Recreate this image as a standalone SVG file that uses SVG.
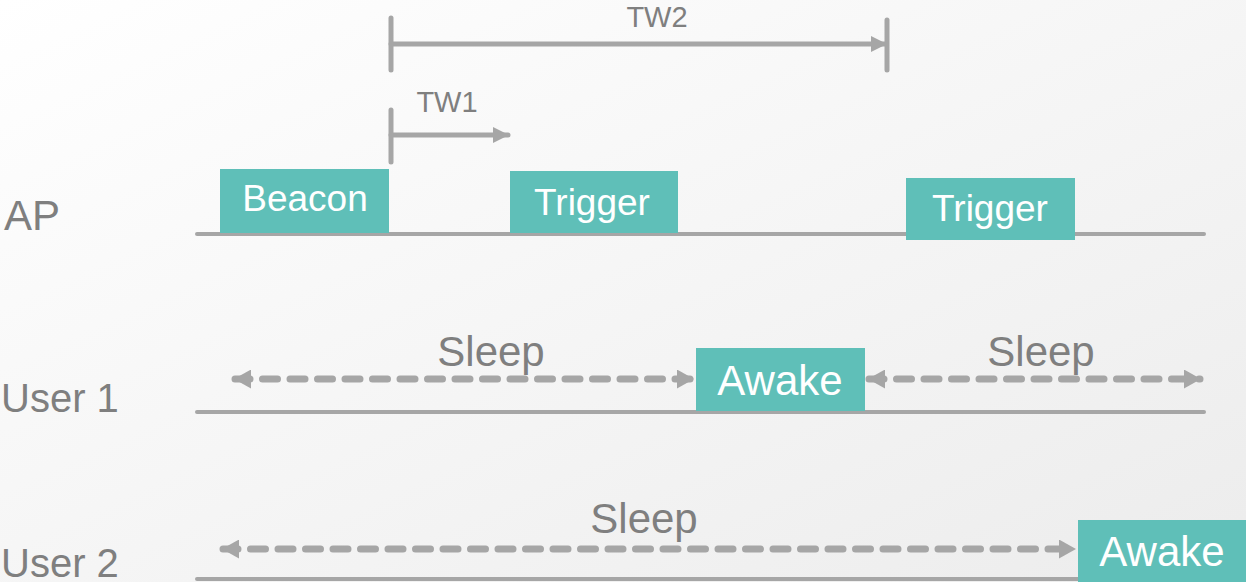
<svg xmlns="http://www.w3.org/2000/svg" width="1246" height="582" viewBox="0 0 1246 582">
  <defs>
    <linearGradient id="bg" x1="0" y1="0" x2="1" y2="1">
      <stop offset="0" stop-color="#ffffff"/>
      <stop offset="1" stop-color="#ececec"/>
    </linearGradient>
    <marker id="head" viewBox="0 0 17 19" refX="16" refY="9.5" markerWidth="17" markerHeight="19" markerUnits="userSpaceOnUse" orient="auto-start-reverse">
      <path d="M0,0 L17,9.5 L0,19 Z" fill="#a6a6a6"/>
    </marker>
    <marker id="headS" viewBox="0 0 16 16" refX="15" refY="8" markerWidth="16" markerHeight="16" markerUnits="userSpaceOnUse" orient="auto">
      <path d="M0,0 L16,8 L0,16 Z" fill="#a6a6a6"/>
    </marker>
  </defs>
  <style>
    .lbl { font-family: "Liberation Sans", Arial, sans-serif; fill: #7f7f7f; }
    .box rect { fill: #5fbfb8; }
    .box text { font-family: "Liberation Sans", Arial, sans-serif; fill: #ffffff; text-anchor: middle; }
    .axis { stroke: #a6a6a6; stroke-width: 4; stroke-linecap: round; fill: none; }
    .tick { stroke: #a6a6a6; stroke-width: 5; stroke-linecap: round; fill: none; }
    .dash { stroke: #a6a6a6; stroke-width: 7; stroke-linecap: round; stroke-dasharray: 15 12.5; fill: none; }
  </style>

  <rect width="1246" height="582" fill="url(#bg)"/>

  <!-- lane labels -->
  <g id="lanes">
    <text class="lbl" x="4" y="230" font-size="42">AP</text>
    <text class="lbl" x="1" y="412" font-size="40">User 1</text>
    <text class="lbl" x="1" y="577" font-size="40">User 2</text>
  </g>

  <!-- time axes -->
  <g id="axes">
    <line class="axis" x1="197" y1="234" x2="1204" y2="234"/>
    <line class="axis" x1="197" y1="412" x2="1204" y2="412"/>
    <line class="axis" x1="197" y1="579" x2="1246" y2="579"/>
  </g>

  <!-- timing windows -->
  <g id="tw2">
    <line class="tick" x1="391" y1="18" x2="391" y2="70"/>
    <line class="tick" x1="887" y1="20" x2="887" y2="70"/>
    <line class="tick" x1="391" y1="44" x2="886" y2="44" marker-end="url(#headS)"/>
    <text class="lbl" x="657" y="27" font-size="29" text-anchor="middle">TW2</text>
  </g>
  <g id="tw1">
    <line class="tick" x1="391" y1="110" x2="391" y2="162"/>
    <line class="tick" x1="391" y1="135" x2="508" y2="135" marker-end="url(#headS)"/>
    <text class="lbl" x="447" y="112" font-size="29" text-anchor="middle">TW1</text>
  </g>

  <!-- AP frames -->
  <g id="beacon" class="box">
    <rect x="220" y="169" width="169" height="64"/>
    <text x="305" y="211" font-size="37">Beacon</text>
  </g>
  <g id="trigger1" class="box">
    <rect x="510" y="171" width="168" height="62"/>
    <text x="592" y="215" font-size="37">Trigger</text>
  </g>
  <g id="trigger2" class="box">
    <rect x="906" y="178" width="169" height="62"/>
    <text x="990" y="221" font-size="37">Trigger</text>
  </g>

  <!-- station states -->
  <g id="awake1" class="box">
    <rect x="696" y="348" width="169" height="63"/>
    <text x="780" y="395" font-size="42">Awake</text>
  </g>
  <g id="awake2" class="box">
    <rect x="1078" y="520" width="168" height="62"/>
    <text x="1162" y="566" font-size="42">Awake</text>
  </g>

  <g id="sleep-labels">
    <text class="lbl" x="491" y="366" font-size="42" text-anchor="middle">Sleep</text>
    <text class="lbl" x="1041" y="366" font-size="42" text-anchor="middle">Sleep</text>
    <text class="lbl" x="644" y="533" font-size="42" text-anchor="middle">Sleep</text>
  </g>

  <!-- sleep intervals -->
  <g id="connectors">
    <line class="dash" x1="235" y1="379" x2="693" y2="379" marker-start="url(#head)" marker-end="url(#head)"/>
    <line class="dash" x1="869" y1="379" x2="1200" y2="379" marker-start="url(#head)" marker-end="url(#head)"/>
    <line class="dash" x1="223" y1="549" x2="1075" y2="549" marker-start="url(#head)" marker-end="url(#head)"/>
  </g>
</svg>
